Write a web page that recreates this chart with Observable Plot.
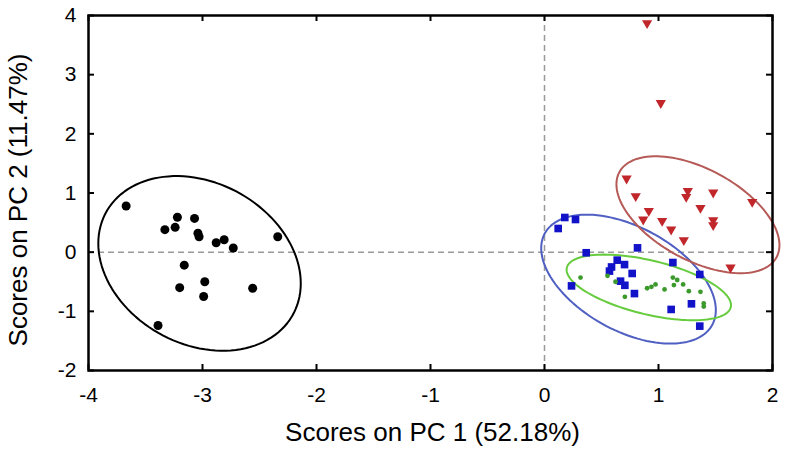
<!DOCTYPE html>
<html>
<head>
<meta charset="utf-8">
<script src="https://cdn.jsdelivr.net/npm/d3@7"></script>
<script src="https://cdn.jsdelivr.net/npm/@observablehq/plot@0.6"></script>
<style>
  html, body { margin: 0; padding: 0; background: #fff; }
  svg { display: block; }
</style>
</head>
<body>
<div id="chart"></div>
<script>
// ---- Data ----
const blackX = [-3.67, -3.22, -3.07, -3.33, -3.24, -3.04, -3.03, -2.88, -2.81, -2.73, -2.34, -3.16, -2.98, -3.20, -2.99, -2.56, -3.39];
const blackY = [0.78, 0.59, 0.57, 0.38, 0.42, 0.32, 0.26, 0.16, 0.21, 0.07, 0.26, -0.22, -0.50, -0.60, -0.75, -0.61, -1.24];

const redX = [0.90, 1.02, 0.72, 0.80, 0.915, 0.866, 1.032, 1.111, 1.222, 1.257, 1.243, 1.48, 1.368, 1.48, 1.48, 1.822, 1.632];
const redY = [3.87, 2.52, 1.245, 0.946, 0.698, 0.552, 0.529, 0.383, 0.203, 1.036, 0.934, 1.008, 0.748, 0.541, 0.456, 0.85, -0.26];

const blueX = [0.178, 0.272, 0.120, 0.366, 0.816, 0.638, 0.702, 0.588, 0.570, 0.769, 0.667, 0.705, 0.789, 0.237, 1.126, 1.362, 1.289, 1.111, 1.362];
const blueY = [0.586, 0.552, 0.40, -0.01, 0.073, -0.135, -0.21, -0.25, -0.32, -0.36, -0.49, -0.56, -0.70, -0.57, -0.175, -0.377, -0.873, -0.968, -1.25];

const greenX = [0.316, 0.553, 0.623, 0.705, 0.90, 0.938, 0.974, 1.053, 1.126, 1.164, 1.135, 1.216, 1.266, 1.368, 1.397, 1.397];
const greenY = [-0.43, -0.40, -0.50, -0.755, -0.61, -0.585, -0.545, -0.63, -0.43, -0.47, -0.557, -0.545, -0.66, -0.67, -0.867, -0.92];

// Confidence ellipses: centre, half-width, half-height, correlation
const ellipseGroup = ["black", "blue", "green", "red"];
const ellipseCX  = [-3.026, 0.737, 0.915, 1.346];
const ellipseCY  = [-0.19, -0.456, -0.596, 0.633];
const ellipseRX  = [0.888, 0.766, 0.721, 0.715];
const ellipseRY  = [1.476, 1.09, 0.555, 0.988];
const ellipseRho = [-0.229, -0.48, -0.54, -0.52];

const xTicks = [-4, -3, -2, -1, 0, 1, 2];
const yTicks = [-2, -1, 0, 1, 2, 3, 4];
const xLabel = "Scores on PC 1 (52.18%)";
const yLabel = "Scores on PC 2 (11.47%)";

const colors = {
  black: "#000000", blackLine: "#000000",
  red: "#c0262a", redLine: "#b55a57",
  blue: "#1212c8", blueLine: "#4f5fc2",
  green: "#3c9a2c", greenLine: "#66cc3e"
};

// ---- Build tables ----
const zip = (xs, ys) => xs.map((x, i) => ({x, y: ys[i]}));
const black = zip(blackX, blackY);
const red = zip(redX, redY);
const blue = zip(blueX, blueY);
const green = zip(greenX, greenY);

const N = 120;
const ellipses = [];
ellipseGroup.forEach((g, k) => {
  const s = Math.sqrt(1 - ellipseRho[k] ** 2);
  for (let i = 0; i <= N; i++) {
    const t = (2 * Math.PI * i) / N;
    ellipses.push({
      group: g,
      x: ellipseCX[k] + ellipseRX[k] * Math.cos(t),
      y: ellipseCY[k] + ellipseRY[k] * (ellipseRho[k] * Math.cos(t) + s * Math.sin(t))
    });
  }
});
const lineColor = {black: colors.blackLine, blue: colors.blueLine, green: colors.greenLine, red: colors.redLine};

const font = "'Liberation Sans', Arial, Helvetica, sans-serif";

const W = 786, H = 454, mL = 88, mR = 14, mT = 15, mB = 84;
const frameW = W - mL - mR, frameH = H - mT - mB, tickLen = 6;

const chart = Plot.plot({
  width: W,
  height: H,
  marginLeft: mL,
  marginRight: mR,
  marginTop: mT,
  marginBottom: mB,
  style: {fontFamily: font, fontSize: "21px", color: "#000", background: "#fff"},
  x: {domain: [-4, 2]},
  y: {domain: [-2, 4]},
  marks: [
    Plot.ruleX([0], {stroke: "#999", strokeWidth: 1.5, strokeDasharray: "6,4"}),
    Plot.ruleY([0], {stroke: "#999", strokeWidth: 1.5, strokeDasharray: "6,4"}),
    Plot.line(ellipses, {x: "x", y: "y", z: "group", stroke: d => lineColor[d.group], strokeWidth: 2}),
    Plot.dot(black, {x: "x", y: "y", r: 4.5, fill: colors.black, symbol: "circle"}),
    Plot.dot(red, {x: "x", y: "y", r: 3.8, fill: colors.red, symbol: "triangle", rotate: 180}),
    Plot.dot(blue, {x: "x", y: "y", r: 4.3, fill: colors.blue, symbol: "square"}),
    Plot.dot(green, {x: "x", y: "y", r: 2.4, fill: colors.green, symbol: "circle"}),
    // tick labels
    Plot.axisX(xTicks, {anchor: "bottom", tickSize: 0, tickPadding: 17, fontSize: 21, label: null, tickFormat: d => String(d)}),
    Plot.axisY(yTicks, {anchor: "left", tickSize: 0, tickPadding: 12, fontSize: 21, label: null, tickFormat: d => String(d)}),
    // y-axis title
    Plot.axisY([], {anchor: "left", tickSize: 0, fontSize: 26, label: yLabel, labelAnchor: "center", labelArrow: "none", labelOffset: 80}),
    // inward ticks on all four sides
    Plot.tickX(xTicks, {x: d => d, insetTop: frameH - tickLen, stroke: "#000", strokeWidth: 2}),
    Plot.tickX(xTicks, {x: d => d, insetBottom: frameH - tickLen, stroke: "#000", strokeWidth: 2}),
    Plot.tickY(yTicks, {y: d => d, insetRight: frameW - tickLen, stroke: "#000", strokeWidth: 2}),
    Plot.tickY(yTicks, {y: d => d, insetLeft: frameW - tickLen, stroke: "#000", strokeWidth: 2}),
    Plot.frame({stroke: "#000", strokeWidth: 2.5}),
    // x-axis title
    Plot.text([xLabel], {text: d => d, frameAnchor: "bottom", dx: 2, dy: 70, fontSize: 26, fill: "#000"})
  ]
});
// nudge the y title slightly downward, as in the reference (wrap it, keeping its own transform)
chart.querySelectorAll("g[aria-label='y-axis label']").forEach(g => {
  if (g.textContent.includes("PC 2")) {
    const wrap = document.createElementNS("http://www.w3.org/2000/svg", "g");
    wrap.setAttribute("transform", "translate(0,7)");
    g.parentNode.insertBefore(wrap, g);
    wrap.appendChild(g);
  }
});
document.getElementById("chart").appendChild(chart);
</script>
</body>
</html>
